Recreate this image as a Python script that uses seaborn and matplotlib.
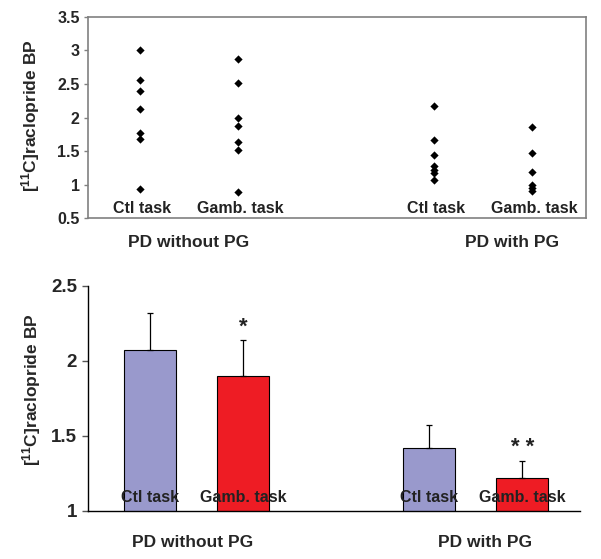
import numpy as np
import pandas as pd
import seaborn as sns
import matplotlib.pyplot as plt
import matplotlib.transforms as mtransforms

# raclopride BP per patient
ctl_no_pg = [3.00, 2.56, 2.40, 2.12, 1.77, 1.68, 0.94]
gamb_no_pg = [2.88, 2.51, 2.00, 1.87, 1.64, 1.51, 0.89]
ctl_pg = [2.17, 1.67, 1.44, 1.28, 1.22, 1.17, 1.07]
gamb_pg = [1.86, 1.47, 1.19, 1.00, 0.95, 0.90]

# group means and upper error
bar_means = [2.07, 1.90, 1.42, 1.22]
bar_err = [0.25, 0.24, 0.15, 0.115]
bar_stars = ['', '*', '', '* *']

slots = ['noPG_ctl', 'noPG_gamb', 'PG_ctl', 'PG_gamb']
order = ['noPG_ctl', 'noPG_gamb', 'gap', 'PG_ctl', 'PG_gamb']
task_labels = ['Ctl task', 'Gamb. task', 'Ctl task', 'Gamb. task']
group_labels = ['PD without PG', 'PD with PG']

bar_colors = {'noPG_ctl': '#9999cc', 'noPG_gamb': '#ee1c24',
              'PG_ctl': '#9999cc', 'PG_gamb': '#ee1c24'}

sns.set_theme(style='white')
plt.rcParams['font.family'] = ['Liberation Sans', 'DejaVu Sans']
plt.rcParams['mathtext.fontset'] = 'custom'
plt.rcParams['mathtext.rm'] = 'Liberation Sans:bold'
plt.rcParams['mathtext.it'] = 'Liberation Sans:bold'
plt.rcParams['mathtext.bf'] = 'Liberation Sans:bold'

ylabel = r'[$^{11}$C]raclopride BP'

points = pd.DataFrame({
    'slot': np.repeat(slots, [len(ctl_no_pg), len(gamb_no_pg), len(ctl_pg), len(gamb_pg)]),
    'bp': ctl_no_pg + gamb_no_pg + ctl_pg + gamb_pg,
})
bars = pd.DataFrame({'slot': slots, 'bp': bar_means})
xpos = [order.index(s) for s in slots]

fig = plt.figure(figsize=(6.01, 5.59), dpi=100)

# ---- top: individual values
ax1 = fig.add_axes([0.1464, 0.610, 0.8286, 0.3596])
sns.stripplot(data=points, x='slot', y='bp', order=order, jitter=False,
              marker='D', color='black', size=4.2, ax=ax1)
ax1.set_xlim(-0.53, 4.55)
ax1.set_ylim(0.5, 3.5)
ax1.set_yticks([0.5, 1, 1.5, 2, 2.5, 3, 3.5])
ax1.set_yticklabels(['0.5', '1', '1.5', '2', '2.5', '3', '3.5'])
ax1.set_xticks([])
ax1.set_xlabel('')
ax1.set_ylabel(ylabel, fontsize=12.5, fontweight='bold')
ax1.yaxis.set_label_coords(-0.093, 0.51)
for s in ax1.spines.values():
    s.set_color('#808080')
    s.set_linewidth(1.2)
ax1.tick_params(axis='y', which='both', left=True, length=3, width=1, color='#808080',
                pad=3, labelsize=11.5)
for t in ax1.get_yticklabels():
    t.set_fontweight('bold')
tr1 = mtransforms.blended_transform_factory(ax1.transData, ax1.transAxes)
for x, lab in zip(xpos, task_labels):
    ax1.text(x + 0.02, 0.045, lab, transform=tr1, ha='center', va='center',
             fontsize=11.5, fontweight='bold', color='#222222')
ax1.text(0.5, -0.12, group_labels[0], transform=tr1, ha='center', va='center',
         fontsize=12.5, fontweight='bold')
ax1.text(3.8, -0.12, group_labels[1], transform=tr1, ha='center', va='center',
         fontsize=12.5, fontweight='bold')

# ---- bottom: means with error bars
ax2 = fig.add_axes([0.1464, 0.0859, 0.8186, 0.4025])
sns.barplot(data=bars, x='slot', y='bp', order=order, hue='slot', palette=bar_colors,
            saturation=1, width=0.56, edgecolor='black', linewidth=0.8, errorbar=None,
            legend=False, ax=ax2)
ax2.errorbar(xpos, bar_means, yerr=[np.zeros(len(bar_err)), bar_err], fmt='none',
             ecolor='black', elinewidth=0.9, capsize=2.5, capthick=0.9)
ax2.set_xlim(-0.67, 4.62)
ax2.set_ylim(1, 2.5)
ax2.set_yticks([1, 1.5, 2, 2.5])
ax2.set_yticklabels(['1', '1.5', '2', '2.5'])
ax2.set_xticks([])
ax2.set_xlabel('')
ax2.set_ylabel(ylabel, fontsize=12.5, fontweight='bold')
ax2.yaxis.set_label_coords(-0.092, 0.54)
sns.despine(ax=ax2)
for s in ['left', 'bottom']:
    ax2.spines[s].set_color('black')
    ax2.spines[s].set_linewidth(1)
ax2.tick_params(axis='y', left=True, length=4, width=1, color='#555555', pad=4,
                labelsize=13.5)
for t in ax2.get_yticklabels():
    t.set_fontweight('bold')
tr2 = mtransforms.blended_transform_factory(ax2.transData, ax2.transAxes)
for x, lab in zip(xpos, task_labels):
    ax2.text(x, 0.059, lab, transform=tr2, ha='center', va='center',
             fontsize=11.5, fontweight='bold', color='#222222')
for x, m, e, st in zip(xpos, bar_means, bar_err, bar_stars):
    if st:
        ax2.text(x, m + e + 0.015, st, ha='center', va='bottom',
                 fontsize=16, fontweight='bold', color='#222222')
ax2.text(0.46, -0.138, group_labels[0], transform=tr2, ha='center', va='center',
         fontsize=12.5, fontweight='bold')
ax2.text(3.6, -0.138, group_labels[1], transform=tr2, ha='center', va='center',
         fontsize=12.5, fontweight='bold')

fig.savefig('out.png', dpi=100)
